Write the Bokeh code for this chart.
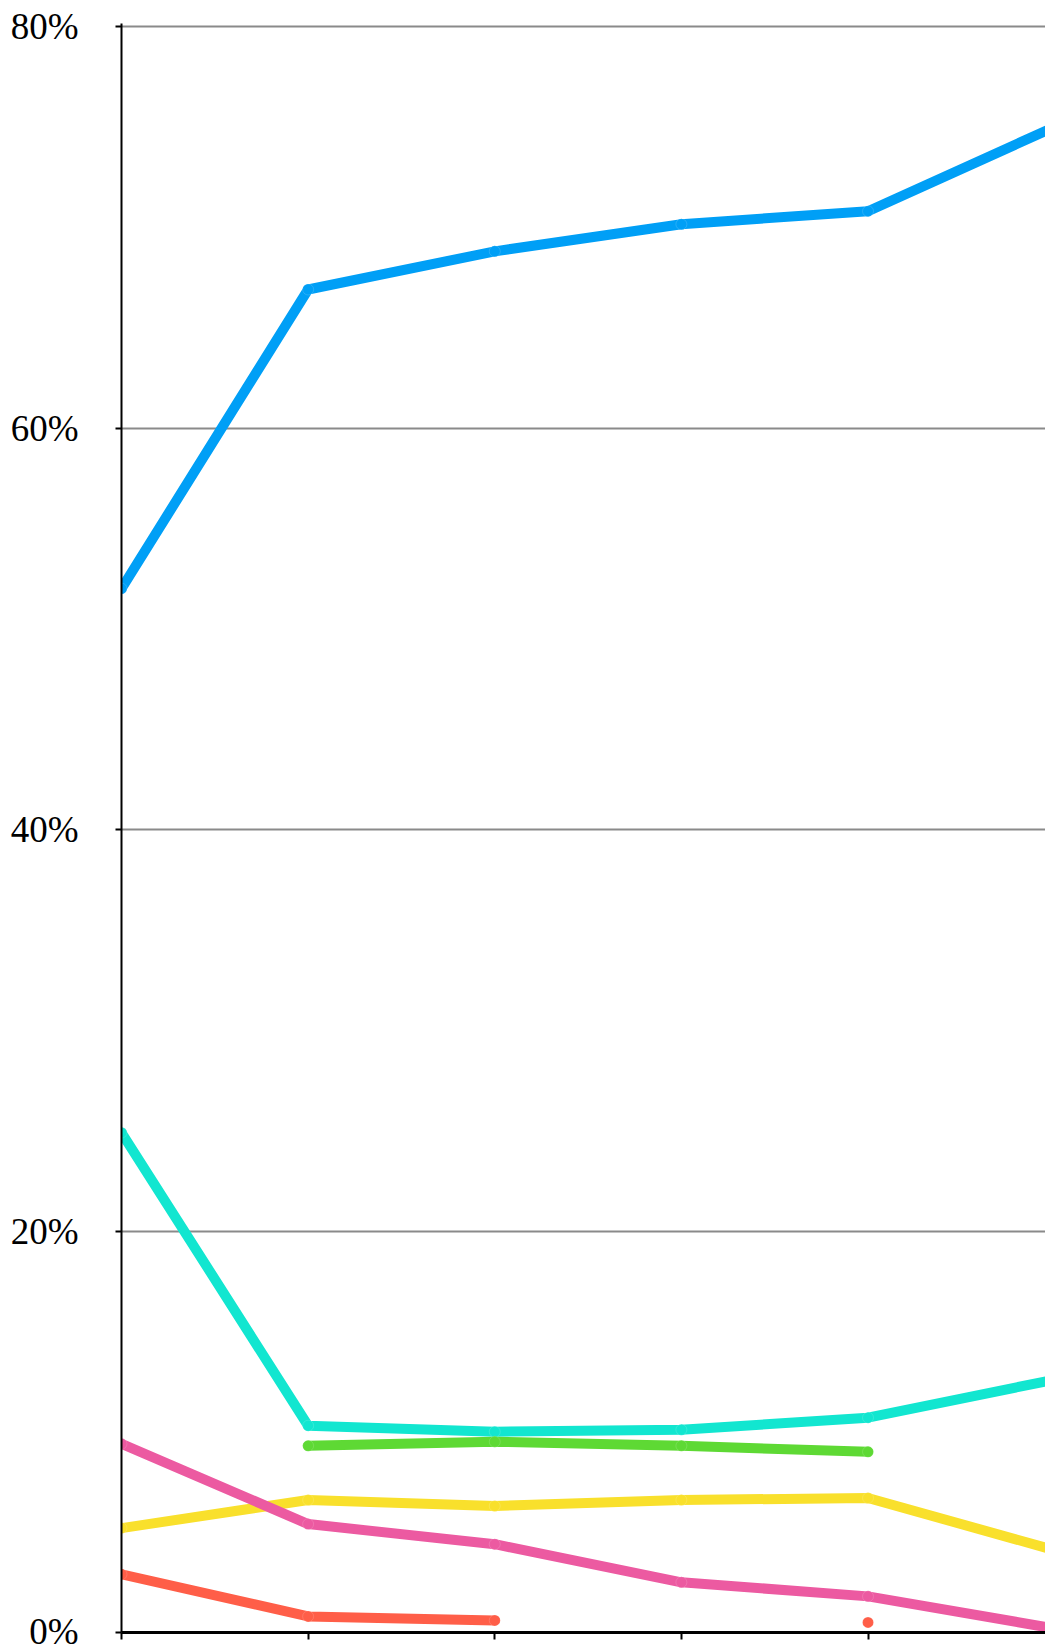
import numpy as np
from bokeh.plotting import figure
from bokeh.models import FixedTicker, PrintfTickFormatter, ColumnDataSource
from bokeh.embed import file_html
from bokeh.resources import INLINE

# ---- data ----
x_index = [0, 1, 2, 3, 4, 5]
nan = float("nan")
blue = [52.0, 66.9, 68.8, 70.15, 70.8, 75.0]
cyan = [24.9, 10.3, 10.0, 10.1, 10.7, 12.6]
green = [nan, 9.3, 9.5, 9.3, 9.0, nan]
yellow = [5.2, 6.6, 6.3, 6.6, 6.7, 4.1]
pink = [9.4, 5.4, 4.4, 2.5, 1.8, 0.2]
red = [2.9, 0.8, 0.6, nan, 0.5, nan]
y_ticks = [0, 20, 40, 60, 80]

series = [
    (blue, "#009ff6"),
    (cyan, "#12e6d0"),
    (green, "#5ed934"),
    (yellow, "#f9e02c"),
    (pink, "#ec5aa1"),
    (red, "#ff5e48"),
]

p = figure(
    width=1045, height=1651,
    x_range=(0, 4.951), y_range=(0, 80.15),
    output_backend="svg", toolbar_location=None,
    min_border_left=121, min_border_right=0,
    min_border_top=23, min_border_bottom=19,
)
p.outline_line_color = None
p.background_fill_color = "white"
p.border_fill_color = "white"

# grid
p.xgrid.grid_line_color = None
p.ygrid.ticker = FixedTicker(ticks=y_ticks)
p.ygrid.grid_line_color = "#8a8a8a"
p.ygrid.grid_line_width = 2

# y axis
p.yaxis.ticker = FixedTicker(ticks=y_ticks)
p.yaxis.formatter = PrintfTickFormatter(format="%d%%")
p.yaxis.major_label_text_font = "'Liberation Serif', 'Times New Roman', serif"
p.yaxis.major_label_text_font_size = "37px"
p.yaxis.major_label_text_color = "black"
p.yaxis.major_label_standoff = 37
p.yaxis.axis_line_color = "black"
p.yaxis.axis_line_width = 2
p.yaxis.major_tick_line_color = "black"
p.yaxis.major_tick_line_width = 2
p.yaxis.major_tick_out = 6
p.yaxis.major_tick_in = 0
p.yaxis.minor_tick_line_color = None

# x axis (its labels lie outside the visible page in the reference)
p.xaxis.ticker = FixedTicker(ticks=x_index)
p.xaxis.major_label_text_font_size = "1px"
p.xaxis.major_label_text_color = None
p.xaxis.major_label_standoff = 0
p.xaxis.axis_line_color = "black"
p.xaxis.axis_line_width = 3
p.xaxis.major_tick_line_color = "black"
p.xaxis.major_tick_line_width = 2
p.xaxis.major_tick_out = 7
p.xaxis.major_tick_in = 0
p.xaxis.minor_tick_line_color = None

for vals, color in series:
    src = ColumnDataSource(dict(x=x_index, y=vals))
    p.line("x", "y", source=src, line_color=color, line_width=10,
           line_join="round", line_cap="round")
    pts = [(xx, v) for xx, v in zip(x_index, vals) if not np.isnan(v)]
    p.scatter([a for a, _ in pts], [b for _, b in pts], size=11,
              fill_color=color, line_color="white", line_alpha=0.15,
              line_width=1)

open("out.html", "w").write(file_html(p, INLINE))
